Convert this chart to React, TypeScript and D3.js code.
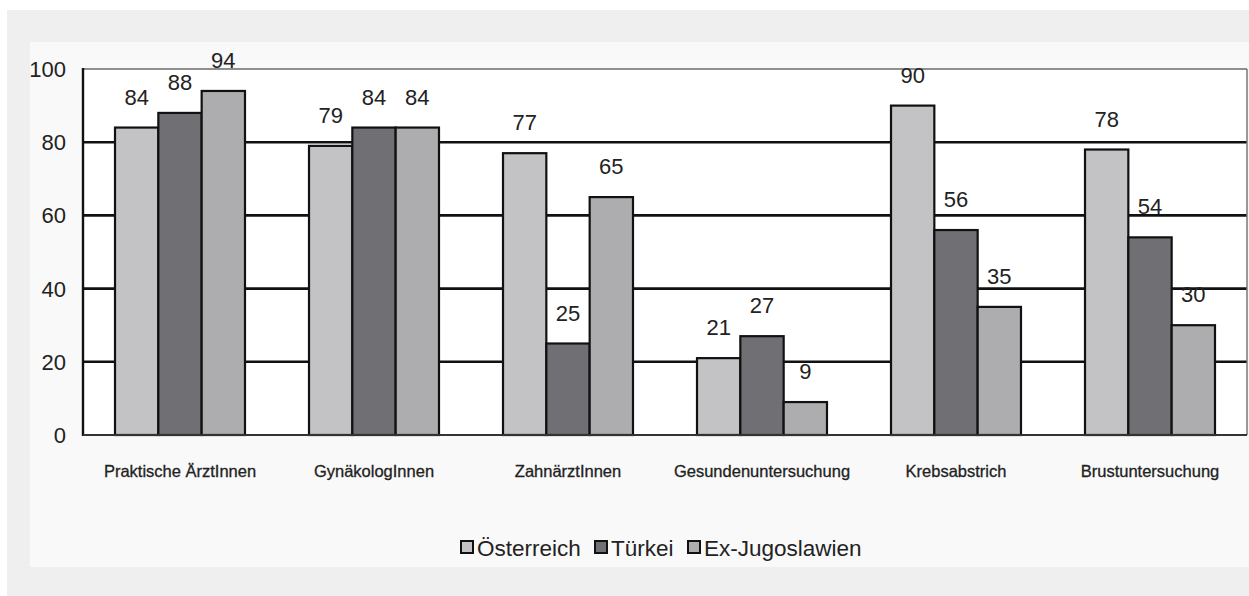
import React from "react";
import * as d3 from "d3";

const categories = [
  "Praktische ÄrztInnen",
  "GynäkologInnen",
  "ZahnärztInnen",
  "Gesundenuntersuchung",
  "Krebsabstrich",
  "Brustuntersuchung",
];
const seriesNames = ["Österreich", "Türkei", "Ex-Jugoslawien"];
const oesterreich = [84, 79, 77, 21, 90, 78];
const tuerkei = [88, 84, 25, 27, 56, 54];
const exJugoslawien = [94, 84, 65, 9, 35, 30];
const yTicks = [0, 20, 40, 60, 80, 100];

const seriesValues = [oesterreich, tuerkei, exJugoslawien];
const colors = ["#c3c3c5", "#707074", "#adadaf"];

const W = 1249;
const H = 596;
const plot = { left: 83, right: 1247, top: 69, bottom: 435 };

export default function App() {
  const x0 = d3
    .scaleBand<string>()
    .domain(categories)
    .range([plot.left, plot.right])
    .paddingInner(0.33)
    .paddingOuter(0.165);
  const x1 = d3
    .scaleBand<string>()
    .domain(seriesNames)
    .range([0, x0.bandwidth()])
    .padding(0);
  const y = d3.scaleLinear().domain([0, 100]).range([plot.bottom, plot.top]);

  const font = "'Liberation Sans', Arial, Helvetica, sans-serif";

  const legendItems = [
    { x: 461, text: seriesNames[0] },
    { x: 595, text: seriesNames[1] },
    { x: 688, text: seriesNames[2] },
  ];

  return (
    <svg
      width={W}
      height={H}
      style={{ position: "absolute", left: 0, top: 0, display: "block" }}
      fontFamily={font}
    >
      <rect x={0} y={0} width={W} height={H} fill="#ffffff" />
      <rect x={7} y={10} width={W - 7} height={H - 10} fill="#efefef" />
      <rect x={30} y={42} width={W - 30} height={525} fill="#f9f9f9" />
      <rect
        x={plot.left}
        y={plot.top}
        width={plot.right - plot.left}
        height={plot.bottom - plot.top}
        fill="#ffffff"
      />
      {/* gridlines */}
      {yTicks
        .filter((t) => t > 0)
        .map((t) => (
          <line
            key={t}
            x1={plot.left}
            x2={plot.right}
            y1={y(t)}
            y2={y(t)}
            stroke={t === 100 ? "#6a6a6a" : "#111"}
            strokeWidth={t === 100 ? 1.6 : 2.6}
          />
        ))}
      {/* right border */}
      <line
        x1={plot.right}
        x2={plot.right}
        y1={plot.top}
        y2={plot.bottom}
        stroke="#777"
        strokeWidth={1.5}
      />
      {/* bars */}
      {categories.map((c, i) => (
        <g key={c} transform={`translate(${x0(c)},0)`}>
          {seriesNames.map((s, j) => {
            const v = seriesValues[j][i];
            return (
              <rect
                key={s}
                x={x1(s)}
                y={y(v)}
                width={x1.bandwidth()}
                height={y(0) - y(v)}
                fill={colors[j]}
                stroke="#111"
                strokeWidth={2.2}
              />
            );
          })}
        </g>
      ))}
      {/* value labels */}
      {categories.map((c, i) =>
        seriesNames.map((s, j) => {
          const v = seriesValues[j][i];
          return (
            <text
              key={c + s}
              x={(x0(c) as number) + (x1(s) as number) + x1.bandwidth() / 2}
              y={y(v) - 23}
              textAnchor="middle"
              fontSize={22}
              fill="#222"
            >
              {v}
            </text>
          );
        })
      )}
      {/* axes */}
      <line
        x1={plot.left}
        x2={plot.left}
        y1={plot.top - 1}
        y2={plot.bottom + 1}
        stroke="#111"
        strokeWidth={2.4}
      />
      <line
        x1={plot.left}
        x2={plot.right}
        y1={plot.bottom}
        y2={plot.bottom}
        stroke="#333"
        strokeWidth={2}
      />
      {yTicks.map((t) => (
        <text
          key={t}
          x={66}
          y={y(t) + 8}
          textAnchor="end"
          fontSize={22}
          fill="#222"
        >
          {t}
        </text>
      ))}
      {categories.map((c) => (
        <text
          key={c}
          x={(x0(c) as number) + x0.bandwidth() / 2}
          y={477}
          textAnchor="middle"
          fontSize={16.5}
          fill="#222"
          stroke="#222"
          strokeWidth={0.3}
        >
          {c}
        </text>
      ))}
      {/* legend */}
      {legendItems.map((item, j) => (
        <g key={item.text}>
          <rect
            x={item.x}
            y={541}
            width={12}
            height={12}
            fill={colors[j]}
            stroke="#111"
            strokeWidth={2}
          />
          <text x={item.x + 16} y={556} fontSize={22.5} fill="#222">
            {item.text}
          </text>
        </g>
      ))}
    </svg>
  );
}
